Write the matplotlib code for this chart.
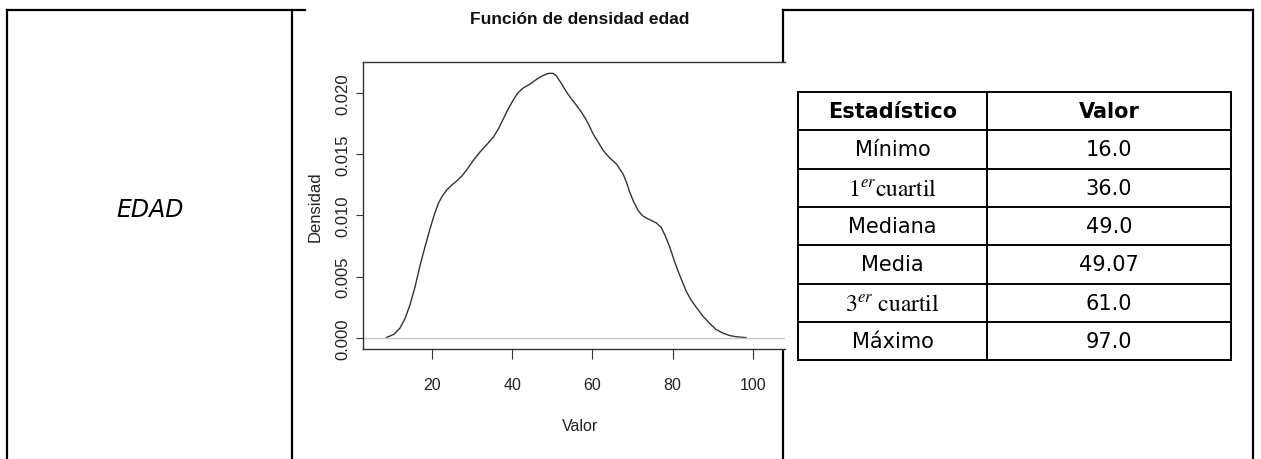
import matplotlib
matplotlib.use('Agg')
from matplotlib import pyplot as plt
from matplotlib.ticker import FormatStrFormatter

plt.rcParams['mathtext.fontset'] = 'stix'

# density curve of edad
edad_x = [8.7, 10.5, 12.0, 13.3, 14.5, 15.8, 17.0, 18.3, 19.5, 20.6, 21.6, 22.6,
          23.7, 25.0, 26.1, 27.4, 28.6, 30.3, 32.0, 33.7, 35.3, 36.6, 37.8, 39.0,
          40.2, 41.4, 42.7, 44.3, 46.0, 47.5, 49.0, 50.2, 51.0, 52.2, 53.5, 54.8,
          56.0, 57.1, 58.1, 59.1, 60.1, 61.4, 62.7, 64.3, 66.0, 67.6, 68.5, 69.3,
          70.3, 71.4, 72.4, 73.4, 74.6, 75.9, 77.2, 78.2, 79.3, 80.3, 81.3, 82.4,
          83.4, 84.6, 85.9, 87.5, 89.2, 90.8, 92.5, 94.2, 95.9, 98.3]
densidad = [0.00005, 0.0003, 0.0008, 0.0016, 0.0027, 0.0042, 0.0059, 0.0075, 0.0089,
            0.0101, 0.0110, 0.0116, 0.0121, 0.0125, 0.0128, 0.0132, 0.0137, 0.0145,
            0.0152, 0.0158, 0.0164, 0.0171, 0.0179, 0.0187, 0.0194, 0.0200, 0.0204,
            0.0207, 0.0211, 0.0214, 0.0216, 0.0216, 0.0214, 0.0208, 0.0201, 0.0195,
            0.0190, 0.0185, 0.0180, 0.0174, 0.0167, 0.0160, 0.0153, 0.0147, 0.0142,
            0.0134, 0.0127, 0.0119, 0.0111, 0.0104, 0.0100, 0.0098, 0.0096, 0.0094,
            0.0090, 0.0083, 0.0074, 0.0064, 0.0055, 0.0046, 0.0038, 0.0031, 0.0025,
            0.0018, 0.0012, 0.0007, 0.0004, 0.0002, 0.0001, 0.00003]
x_ticks = [20, 40, 60, 80, 100]
y_ticks = [0.000, 0.005, 0.010, 0.015, 0.020]

# summary table
header = ['Estadístico', 'Valor']
stat_names = ['Mínimo', r'$1^{er}\mathrm{cuartil}$', 'Mediana', 'Media',
              r'$3^{er}\ \mathrm{cuartil}$', 'Máximo']
stat_values = ['16.0', '36.0', '49.0', '49.07', '61.0', '97.0']
variable = 'EDAD'

W, H = 1261, 460
narrow = ['Liberation Sans Narrow', 'Liberation Sans']
arial = ['Liberation Sans', 'DejaVu Sans']
table_font = ['DejaVu Sans']

fig = plt.figure(figsize=(W / 100, H / 100), dpi=100)

# overlay in pixel coordinates for the outer layout table
bg = fig.add_axes([0, 0, 1, 1])
bg.set_xlim(0, W)
bg.set_ylim(H, 0)
bg.axis('off')

lw_outer = 1.6
for xs in [7, 292, 783, 1253]:
    bg.plot([xs, xs], [11, H], color='black', lw=lw_outer, solid_capstyle='projecting')
bg.plot([7, 305], [11, 11], color='black', lw=lw_outer)
bg.plot([783, 1253], [11, 11], color='black', lw=lw_outer)

bg.text(150, 210, variable, fontsize=17, style='italic', family=table_font,
        ha='center', va='center')

# summary table
t_left, t_mid, t_right = 798, 987, 1231
t_top, row_h = 93, 38.3
n_rows = len(stat_names) + 1
lw_t = 1.4
for i in range(n_rows + 1):
    yy = t_top + i * row_h
    bg.plot([t_left, t_right], [yy, yy], color='black', lw=lw_t, solid_capstyle='projecting')
for xs in [t_left, t_mid, t_right]:
    bg.plot([xs, xs], [t_top, t_top + n_rows * row_h], color='black', lw=lw_t,
            solid_capstyle='projecting')

c1 = (t_left + t_mid) / 2
c2 = (t_mid + t_right) / 2
yc = t_top + row_h / 2
bg.text(c1, yc, header[0], fontsize=15, fontweight='bold', family=table_font,
        ha='center', va='center')
bg.text(c2, yc, header[1], fontsize=15, fontweight='bold', family=table_font,
        ha='center', va='center')
for i, (name, val) in enumerate(zip(stat_names, stat_values)):
    yc = t_top + (i + 1.5) * row_h
    if name.startswith('$'):
        bg.text(c1, yc, name, fontsize=17, ha='center', va='center')
    else:
        bg.text(c1, yc, name, fontsize=15, family=table_font, ha='center', va='center')
    bg.text(c2, yc, val, fontsize=15, family=table_font, ha='center', va='center')

# density plot (R style)
px_left, px_right, px_top, px_bot = 363, 785, 63, 350
ax = fig.add_axes([px_left / W, 1 - px_bot / H, (px_right - px_left) / W,
                   (px_bot - px_top) / H])
ax.plot(edad_x, densidad, color='#333333', lw=1.0)
ax.axhline(0, color='#c8c8c8', lw=1.0)
ax.set_xlim(2.8, 108.0)
ax.set_ylim(-0.000898, 0.02253)
ax.set_xticks(x_ticks)
ax.set_yticks(y_ticks)
ax.yaxis.set_major_formatter(FormatStrFormatter('%.3f'))
for s in ['left', 'top', 'bottom']:
    ax.spines[s].set_color('#333333')
    ax.spines[s].set_linewidth(1.0)
ax.spines['right'].set_visible(False)
ax.tick_params(axis='x', length=7, width=0.8, color='#333333', pad=13,
               labelsize=11.5)
ax.tick_params(axis='y', length=5, width=0.8, color='#333333', pad=4,
               labelsize=12, labelrotation=90)
for lab in ax.get_xticklabels():
    lab.set_family(narrow)
    lab.set_color('#222222')
for lab in ax.get_yticklabels():
    lab.set_family(arial)
    lab.set_va('center')
    lab.set_color('#222222')

fig.text(580 / W, 1 - 20 / H, 'Función de densidad edad', fontsize=12.5,
         fontweight='bold', family=narrow, ha='center', va='center', color='#111111')
fig.text(580 / W, 1 - 427 / H, 'Valor', fontsize=11.5, family=narrow,
         ha='center', va='center', color='#222222')
fig.text(315 / W, 1 - 207 / H, 'Densidad', fontsize=12, family=arial, rotation=90,
         ha='center', va='center', color='#222222')

fig.savefig('out.png', dpi=100)
